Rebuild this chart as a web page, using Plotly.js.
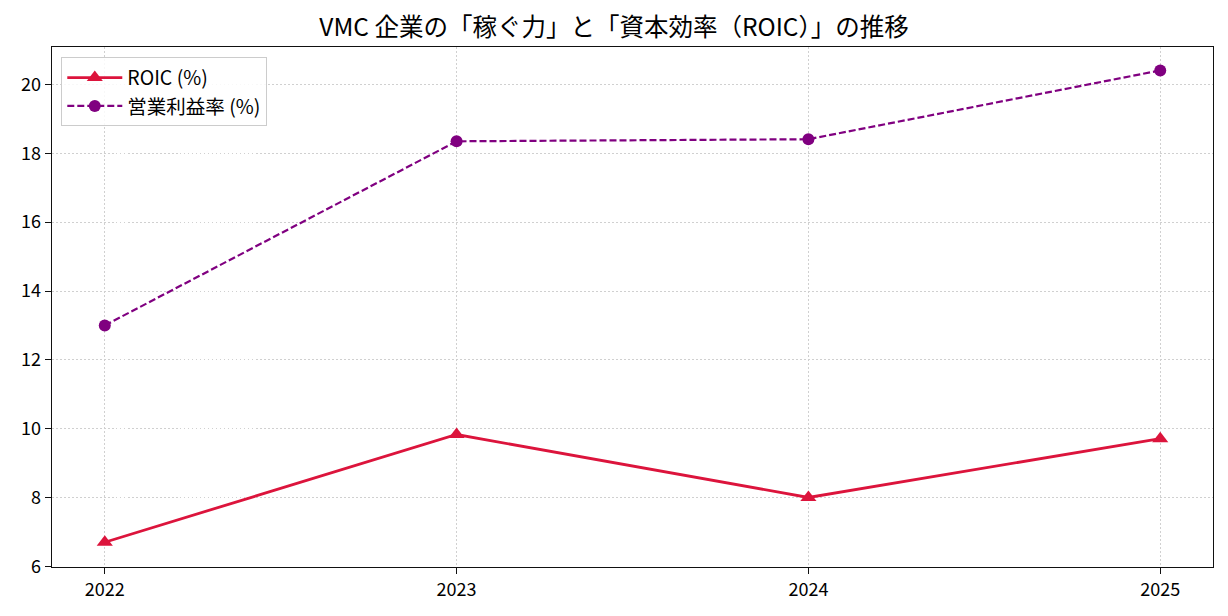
<!DOCTYPE html>
<html><head><meta charset="utf-8">
<script src="https://cdn.plot.ly/plotly-3.0.1.min.js"></script>
<style>body{margin:0;background:#fff}#c{width:1228px;height:616px}</style>
</head><body><div id="c"></div>
<script>
const years = [2022, 2023, 2024, 2025];
const roic = [6.7, 9.83, 8.0, 9.71];
const opMargin = [13.0, 18.35, 18.41, 20.41];
const yTicks = [6, 8, 10, 12, 14, 16, 18, 20];
const font = '"Noto Sans CJK JP", "Noto Sans", sans-serif';

const traces = [
  {x: years, y: roic, name: 'ROIC (%)', mode: 'lines+markers', type: 'scatter',
   line: {color: '#DC143C', width: 2.8}, marker: {symbol: 'triangle-up', size: 14, color: '#DC143C'}},
  {x: years, y: opMargin, name: '営業利益率 (%)', mode: 'lines+markers', type: 'scatter',
   line: {color: '#800080', width: 2.2, dash: '7px,3px'}, marker: {symbol: 'circle', size: 12, color: '#800080'}}
];

const layout = {
  width: 1228, height: 616,
  margin: {l: 52, r: 15, t: 47, b: 49},
  paper_bgcolor: '#fff', plot_bgcolor: '#fff',
  font: {family: font, size: 18, color: '#000'},
  title: {text: 'VMC 企業の「稼ぐ力」と「資本効率（ROIC）」の推移', x: 0.5, xanchor: 'center', y: 0.955, yanchor: 'middle', font: {family: font, size: 24.5, color: '#000'}},
  xaxis: {range: [2021.85, 2025.15], tickvals: years, ticktext: years.map(String),
    showline: true, mirror: true, linecolor: '#111', linewidth: 1.3,
    ticks: 'outside', ticklen: 6, tickcolor: '#111',
    showgrid: true, gridcolor: '#d0d0d0', griddash: '1.5px,2.5px', gridwidth: 1, zeroline: false,
    tickfont: {family: font, size: 18}},
  yaxis: {range: [5.98, 21.09], tickvals: yTicks,
    showline: true, mirror: true, linecolor: '#111', linewidth: 1.3,
    ticks: 'outside', ticklen: 6, tickcolor: '#111',
    showgrid: true, gridcolor: '#d0d0d0', griddash: '1.5px,2.5px', gridwidth: 1, zeroline: false,
    tickfont: {family: font, size: 18}},
  legend: {x: 0.008, y: 0.98, xanchor: 'left', yanchor: 'top', bgcolor: 'rgba(255,255,255,0.85)',
    bordercolor: '#cccccc', borderwidth: 1, font: {family: font, size: 19.5}, itemwidth: 55},
  showlegend: true
};
Plotly.newPlot('c', traces, layout, {displayModeBar: false, staticPlot: true});
</script></body></html>
